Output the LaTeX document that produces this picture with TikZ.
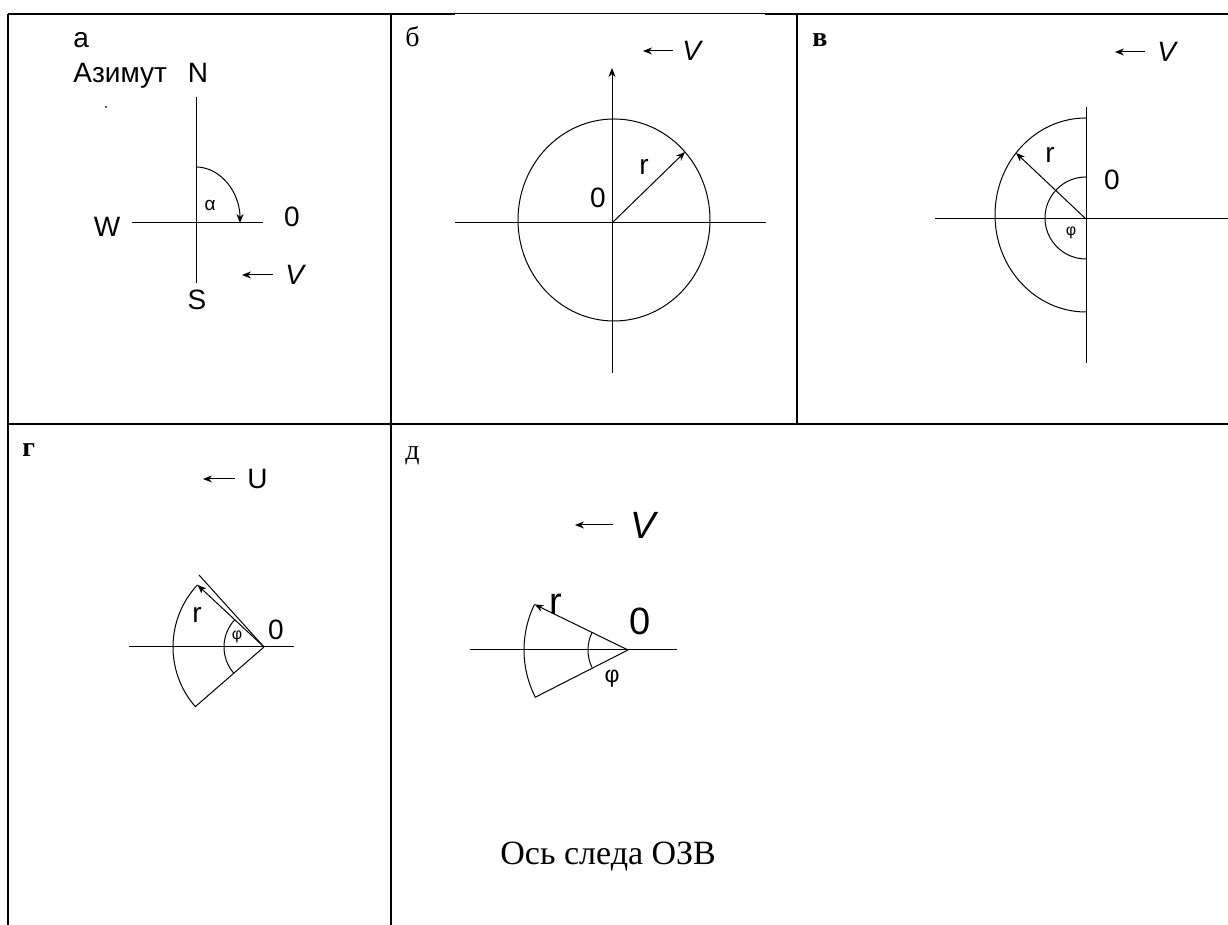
\documentclass[tikz,border=0pt]{standalone}
\usepackage{fontspec}
\setmainfont{Liberation Serif}
\newfontfamily\lblfont{Liberation Sans}
\usetikzlibrary{arrows.meta,positioning}

\begin{document}
\begin{tikzpicture}[x=0.5pt, y=0.5pt,
  frame/.style={line width=1pt},
  ln/.style={line width=0.5pt},
  arrow/.style={-{Stealth[length=4.5pt, width=3.5pt]}, line width=0.5pt},
  panel/.style={anchor=base west, inner sep=0pt, font=\fontsize{14}{14}\selectfont},
  lbl/.style={anchor=base, inner sep=0pt, font=\lblfont\fontsize{14}{14}\selectfont},
  biglbl/.style={anchor=base, inner sep=0pt, font=\lblfont\fontsize{19}{19}\selectfont},
  vlbl/.style={inner sep=0pt, font=\lblfont\itshape\fontsize{14}{14}\selectfont},
  greek/.style={inner sep=0pt, font=\lblfont\fontsize{8}{8}\selectfont}]
\useasboundingbox (0,0) rectangle (1228,925);
% table
\draw[frame] (8,911) -- (455,911); \draw[ln] (455,911.5) -- (765,911.5); \draw[frame] (765,911) -- (1228,911);
\draw[frame] (8,911) -- (8,0); \draw[frame] (391,911) -- (391,0); \draw[frame] (797,911) -- (797,501);
\draw[frame] (8,501) -- (1228,501);
% a
\node[lbl, anchor=base west] (tagA) at (73,877) {а};
\node[lbl, anchor=base west] (azimuth) at (73,842) {Азимут};
\node[lbl] (north) at (198,842) {N};
\node[lbl] (west) at (107,688) {W};
\node[lbl] (east) at (292,698) {0};
\node[lbl] (south) at (197,615) {S};
\coordinate (nA) at (196,828); \coordinate (sA) at (196,642); \coordinate (wA) at (132,702); \coordinate (eA) at (263,702);
\draw[ln] (nA) -- (sA); \draw[ln] (wA) -- (eA);
\coordinate (alphaStart) at (196,758);
\draw[arrow] (alphaStart) arc[start angle=90, end angle=0, x radius=44, y radius=56];
\node[greek, font=\lblfont\fontsize{9.5}{9.5}\selectfont] (alpha) at (210,720) {α};
\coordinate (vAtail) at (273,650); \coordinate (vAhead) at (242,650);
\draw[arrow] (vAtail) -- (vAhead);
\node[vlbl, right=6pt of vAtail] (vA) {V};
\fill (106,818) circle[radius=1];
% b
\node[panel] (tagB) at (405,878) {б};
\coordinate (oB) at (612,702); \coordinate (topB) at (612,857); \coordinate (botB) at (612,552);
\coordinate (leftB) at (455,702); \coordinate (rightB) at (766,702); \coordinate (rimB) at (685,773);
\draw[arrow] (botB) -- (topB); \draw[ln] (leftB) -- (rightB);
\draw[ln] (614,705) ellipse[x radius=96, y radius=101];
\draw[arrow] (oB) -- (rimB);
\node[lbl] (rB) at (644,750) {r};
\node[lbl] (zeroB) at (598,717) {0};
\coordinate (vBtail) at (673,874); \coordinate (vBhead) at (643,874);
\draw[arrow] (vBtail) -- (vBhead);
\node[vlbl, right=4.5pt of vBtail] (vB) {V};
% v
\node[panel, font=\bfseries\fontsize{14}{14}\selectfont] (tagC) at (812,878) {в};
\coordinate (oC) at (1086,706); \coordinate (topC) at (1086,818); \coordinate (botC) at (1086,562);
\coordinate (leftC) at (935,706); \coordinate (rightC) at (1228,706); \coordinate (rimC) at (1016,772);
\draw[ln] (topC) -- (botC); \draw[ln] (leftC) -- (rightC);
\draw[ln] (1086,807) arc[start angle=90, end angle=270, x radius=91, y radius=97];
\draw[ln] (1086,748) arc[start angle=90, end angle=270, radius=41];
\draw[arrow] (oC) -- (rimC);
\node[lbl] (rC) at (1050,762) {r};
\node[lbl] (zeroC) at (1112,735) {0};
\node[greek] (phiC) at (1071,692) {φ};
\coordinate (vCtail) at (1145,873); \coordinate (vChead) at (1115,873);
\draw[arrow] (vCtail) -- (vChead);
\node[vlbl, right=6pt of vCtail] (vC) {V};
% g
\node[panel, font=\bfseries\fontsize{14}{14}\selectfont] (tagD) at (22,468) {г};
\coordinate (oD) at (264,278); \coordinate (leftD) at (129,278); \coordinate (rightD) at (294,278);
\coordinate (edgeD) at (199,350);
\draw[ln] (leftD) -- (rightD);
\draw[ln] (oD) -- (edgeD);
\draw[arrow] (oD) -- ++(137:91);
\draw[ln] (oD) ++(137:91) arc[start angle=137, end angle=221, radius=91] -- (oD);
\draw[ln] (oD) ++(137:40) arc[start angle=137, end angle=221, radius=40];
\node[lbl] (rD) at (197,302) {r};
\node[greek] (phiD) at (237,288) {φ};
\node[lbl] (zeroD) at (276,285) {0};
\coordinate (uDtail) at (235,446); \coordinate (uDhead) at (203,446);
\draw[arrow] (uDtail) -- (uDhead);
\node[lbl, anchor=west, right=6pt of uDtail] (uD) {U};
% d
\node[panel] (tagE) at (405,465) {д};
\coordinate (oE) at (628,275); \coordinate (leftE) at (470,275); \coordinate (rightE) at (677,275);
\draw[ln] (leftE) -- (rightE);
\draw[arrow] (oE) -- ++(154:104);
\draw[ln] (oE) ++(154:104) arc[start angle=154, end angle=207, radius=104] -- (oE);
\draw[ln] (oE) ++(154:40) arc[start angle=154, end angle=206, radius=40];
\node[biglbl] (rE) at (556,310) {r};
\node[biglbl] (zeroE) at (640,290) {0};
\node[greek, font=\lblfont\fontsize{11.5}{11.5}\selectfont] (phiE) at (612,246) {φ};
\coordinate (vEtail) at (613,400); \coordinate (vEhead) at (575,400);
\draw[arrow] (vEtail) -- (vEhead);
\node[vlbl, font=\lblfont\itshape\fontsize{19}{19}\selectfont, right=8.5pt of vEtail] (vE) {V};
\node[anchor=base west, inner sep=0pt, font=\fontsize{17}{17}\selectfont] (trace) at (500,60) {Ось следа ОЗВ};
\end{tikzpicture}
\end{document}
